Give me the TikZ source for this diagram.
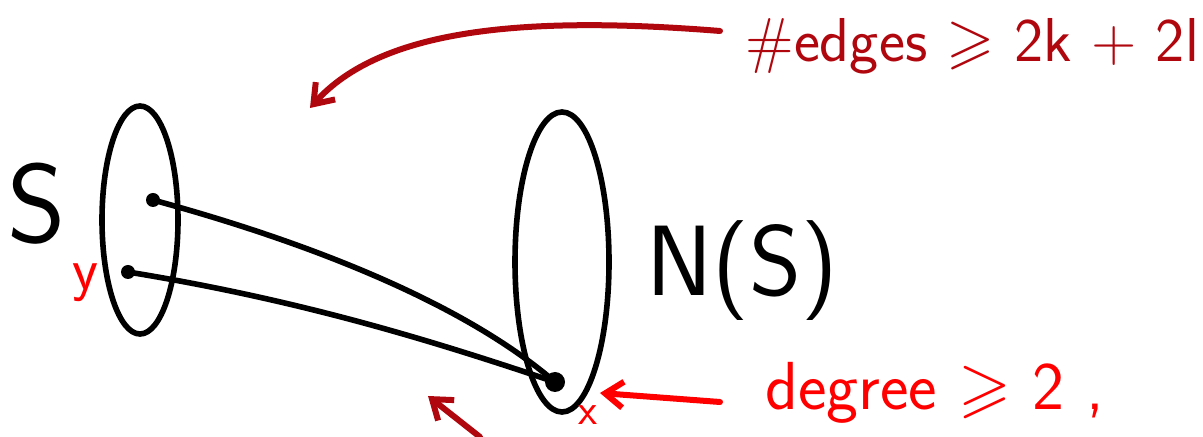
\documentclass[tikz,border=0pt]{standalone}
\usepackage{fontspec}
\usepackage{amssymb}
\usetikzlibrary{shapes.geometric,arrows.meta}
\definecolor{inkred}{HTML}{B0060E}
\definecolor{penred}{HTML}{FF0000}
\tikzset{
  pen/.style={line width=2.8pt, line cap=round, line join=round},
  blob/.style={ellipse, draw, pen, inner sep=0pt},
  dot/.style={circle, fill, inner sep=0pt, minimum size=#1},
  note/.style={font=\sffamily\fontsize{#1}{#1}\selectfont, inner sep=0pt, anchor=base},
  hook/.style={-{Straight Barb[length=9pt,width=13pt,line width=3pt]}, line width=3pt, line cap=round}
}
\begin{document}
\begin{tikzpicture}[x=0.5pt, y=-0.5pt]
\useasboundingbox (0,0) rectangle (1203,437);
\node[blob, minimum width=38pt, minimum height=114pt] (S) at (140,220) {};
\node[blob, minimum width=47pt, minimum height=150pt] (NS) at (562,262) {};
\node[dot=7pt] (u) at (153,200) {};
\node[dot=7pt] (y) at (128,272) {};
\node[dot=10pt] (x) at (555,382) {};
\draw[pen] (u.center) .. controls (300,240) and (460,300) .. (x.center);
\draw[pen] (y.center) .. controls (300,300) and (430,340) .. (x.center);

\node[note=56pt] (Slab) at (37,243) {S};
\node[note=50pt] (NSlab) at (742,296) {N(S)};
\node[note=30pt, text=penred] (ylab) at (85,290) {y};
\node[note=22pt, text=penred] (xlab) at (588,424) {x};

\node[note=31pt, text=inkred, anchor=base west] (edges) at (745,62)
  {\#edges $\geqslant$ 2k + 2l};
\node[note=34pt, text=penred, anchor=base west] (degree) at (765,410)
  {degree $\geqslant$ 2 ,};
\coordinate (ell) at (310,108);
\coordinate (low) at (480,437);
\coordinate (lowtip) at (428,396);
\coordinate (xtip) at (600,393);
\coordinate (etail) at (720,31);
\coordinate (dtail) at (720,402);

\draw[hook, inkred] (etail) .. controls (520,15) and (380,30) .. (ell);
\draw[hook, inkred] (low) -- (lowtip);
\draw[hook, penred] (dtail) -- (xtip);
\end{tikzpicture}
\end{document}
